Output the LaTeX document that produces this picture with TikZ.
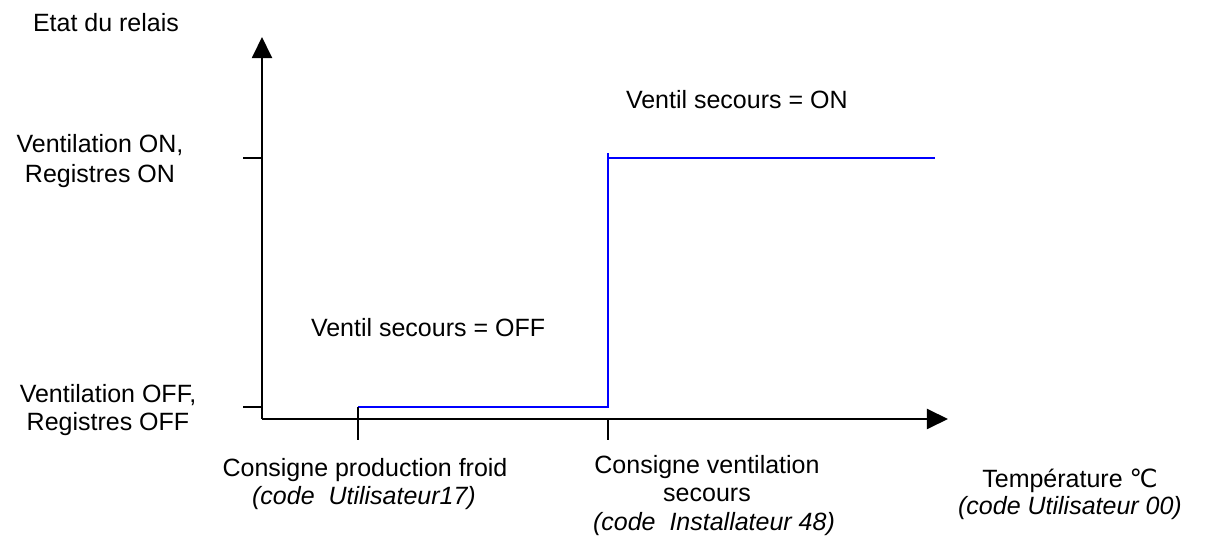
\documentclass[tikz,border=0pt]{standalone}
\usepackage{fontspec}
\setmainfont{Liberation Sans}
\newfontfamily\symfont{DejaVu Sans}
\usetikzlibrary{arrows.meta}
\begin{document}
\begin{tikzpicture}[x=0.48pt,y=-0.48pt,
  every node/.style={inner sep=0pt,outer sep=0pt,font=\fontsize{12pt}{13.4pt}\selectfont},
  axis/.style={line width=0.96pt,black,-{Triangle[length=10.1pt,width=9.6pt]}},
  tick/.style={line width=0.96pt,black},
  relay/.style={line width=0.96pt,blue},
  lbl/.style={anchor=base},
  lbll/.style={anchor=base west}]
\useasboundingbox (0,0) rectangle (1207,543);

% axes
\coordinate (O) at (262,419);
\coordinate (ytop) at (262,37);
\coordinate (xend) at (948,419);
\draw[axis] (O) -- (ytop);
\draw[axis] (O) -- (xend);

% ticks on the vertical axis
\coordinate (loA) at (243,407);
\coordinate (loB) at (262,407);
\coordinate (hiA) at (243,158);
\coordinate (hiB) at (262,158);
\draw[tick] (loA) -- (loB);
\draw[tick] (hiA) -- (hiB);

% relay state curve
\coordinate (r1) at (358,407);
\coordinate (r2) at (607.5,407);
\coordinate (r3) at (607.5,153);
\coordinate (r4) at (608,158);
\coordinate (r5) at (935,158);
\draw[relay] (r1) -- (r2) -- (r3);
\draw[relay] (r4) -- (r5);

% ticks on the horizontal axis
\coordinate (t1a) at (358,407);
\coordinate (t1b) at (358,440);
\coordinate (t2a) at (608,419);
\coordinate (t2b) at (608,440);
\draw[tick] (t1a) -- (t1b);
\draw[tick] (t2a) -- (t2b);

% labels
\node[lbll] (ylab) at (33,32) {Etat du relais};
\node[lbl] (on1) at (100,153) {Ventilation ON,};
\node[lbl] (on2) at (100,183) {Registres ON};
\node[lbl] (off1) at (108,403) {Ventilation OFF,};
\node[lbl] (off2) at (108,431) {Registres OFF};
\node[lbll] (son) at (626,109) {Ventil secours = ON};
\node[lbll] (soff) at (311,337) {Ventil secours = OFF};
\node[lbl] (c1a) at (365,477) {Consigne production froid};
\node[lbl] (c1b) at (364,505) {\itshape (code\ \ Utilisateur17)};
\node[lbl] (c2a) at (707,474) {Consigne ventilation};
\node[lbl] (c2b) at (707,502) {secours};
\node[lbl] (c2c) at (714,531) {\itshape (code\ \ Installateur 48)};
\node[lbl] (ta) at (1070,488) {Température {\symfont ℃}};
\node[lbl] (tb) at (1070,515) {\itshape (code Utilisateur 00)};
\end{tikzpicture}
\end{document}
